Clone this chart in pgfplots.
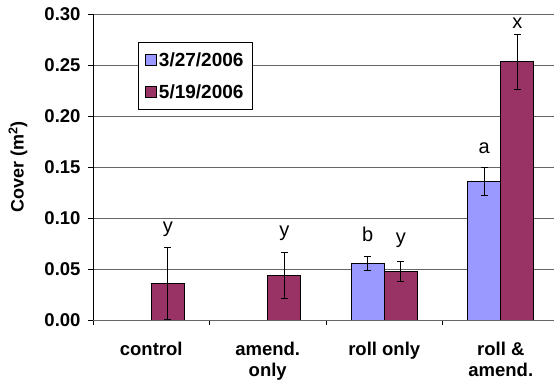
\documentclass[border=0pt]{standalone}
\usepackage{fontspec}
\setmainfont{Liberation Sans}
\usepackage{pgfplots}
\pgfplotsset{compat=1.18}
\definecolor{cblue}{HTML}{9999FF}
\definecolor{cred}{HTML}{993366}
\begin{document}
\begin{tikzpicture}[font=\fontsize{18bp}{21bp}\selectfont]
\path[use as bounding box] (-93bp,-63bp) rectangle (461bp,320bp);
\begin{axis}[
  at={(0,0)}, anchor=south west,
  scale only axis, width=461bp, height=306bp,
  xmin=-0.5, xmax=3.457, ymin=0, ymax=0.30,
  ybar=0pt, bar width=33bp,
  axis x line*=bottom, axis y line*=left,
  x axis line style={black!60, line width=0.8pt},
  y axis line style={black, line width=0.8pt},
  ytick={0,0.05,0.10,0.15,0.20,0.25,0.30},
  yticklabel style={xshift=-4bp, /pgf/number format/.cd, fixed, fixed zerofill, precision=2, assume math mode=true},
  ticklabel style={font=\fontsize{18.5bp}{21bp}\selectfont\bfseries},
  ymajorgrids, grid style={black!60, line width=0.8pt},
  tick align=outside, major tick length=5bp,
  tick style={black, line width=0.8pt},
  xtick={-0.5,0.5,1.5,2.5}, xticklabels={},
  extra x ticks={0,1,2,3},
  extra x tick labels={control,{amend.\\only},{roll only},{roll \&\\amend.}},
  extra x tick style={major tick length=0pt, xticklabel style={align=center, yshift=-19bp}},
  ylabel={\bfseries Cover (m\textsuperscript{2})},
  every axis y label/.style={at={(axis description cs:-0.1627,0.5)}, rotate=90, anchor=center},
  legend style={at={(axis description cs:0.0976,0.9085)}, anchor=north west, draw=black, line width=0.8pt,
    font=\fontsize{19bp}{22bp}\selectfont\bfseries, row sep=13bp, inner xsep=7bp, inner ysep=8bp},
  legend cell align=left,
  legend image code/.code={\draw[#1, draw=black, line width=0.6pt] (0bp,-5.5bp) rectangle (11bp,5.5bp);},
]
\addplot[fill=cblue, draw=black, line width=0.8pt,
  error bars/.cd, y dir=both, y explicit,
  error bar style={black, line width=0.8pt},
  error mark options={rotate=90, mark size=3.5bp, black, line width=0.8pt}]
  coordinates {(2,0.0556) +- (0,0.0067) (3,0.136) +- (0,0.0135)};
\addplot[fill=cred, draw=black, line width=0.8pt,
  error bars/.cd, y dir=both, y explicit,
  error bar style={black, line width=0.8pt},
  error mark options={rotate=90, mark size=3.5bp, black, line width=0.8pt}]
  coordinates {(0,0.036) +- (0,0.035) (1,0.0438) +- (0,0.0225) (2,0.0477) +- (0,0.0101) (3,0.2533) +- (0,0.0268)};
\legend{3/27/2006, 5/19/2006}
\begin{scope}[every node/.style={font=\fontsize{20bp}{23bp}\selectfont}]
\node[xshift=16.5bp] at (axis cs:0,0.089) {y};
\node[xshift=16.5bp] at (axis cs:1,0.085) {y};
\node[xshift=-16.5bp] at (axis cs:2,0.084) {b};
\node[xshift=16.5bp] at (axis cs:2,0.078) {y};
\node[xshift=-16.5bp] at (axis cs:3,0.168) {a};
\node[xshift=16.5bp] at (axis cs:3,0.2907) {x};
\end{scope}
\end{axis}
\end{tikzpicture}
\end{document}
